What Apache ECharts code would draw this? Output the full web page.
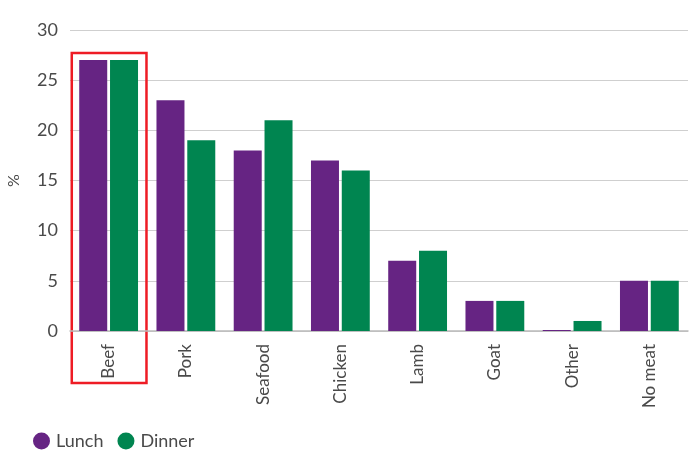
<!DOCTYPE html>
<html><head><meta charset="utf-8">
<script src="https://cdn.jsdelivr.net/npm/echarts@6/dist/echarts.min.js"></script>
<style>html,body{margin:0;padding:0;background:#fff}#c{width:694px;height:455px}</style>
</head><body><div id="c"></div>
<script>
var categories = ["Beef","Pork","Seafood","Chicken","Lamb","Goat","Other","No meat"];
var lunch = [27,23,18,17,7,3,0.1,5];
var dinner = [27,19,21,16,8,3,1,5];
var yTicks = [0,5,10,15,20,25,30];
var highlightCategory = "Beef";

(function () {
  var font = "Lato";
  var chart = echarts.init(document.getElementById('c'));
  chart.setOption({
    animation: false,
    textStyle: {fontFamily: font},
    grid: {left: 70, right: 6, top: 30, bottom: 124, outerBoundsMode: 'none', containLabel: false},
    legend: {
      left: 28, bottom: 0, itemWidth: 17, itemHeight: 17, itemGap: 14,
      icon: 'circle',
      textStyle: {fontFamily: font, fontSize: 18, color: '#4a4a4a', padding: [0,0,0,1]},
      data: ['Lunch','Dinner']
    },
    xAxis: {
      type: 'category', data: categories,
      axisTick: {show: false},
      axisLine: {lineStyle: {color: '#bbb', width: 1.5}},
      axisLabel: {rotate: 90, fontSize: 17, color: '#4a4a4a', margin: 13, fontFamily: font}
    },
    yAxis: {
      type: 'value', min: yTicks[0], max: yTicks[yTicks.length-1], interval: 5,
      name: '%', nameLocation: 'middle', nameGap: 48, nameRotate: 90,
      nameTextStyle: {fontSize: 16, color: '#4a4a4a', fontFamily: font},
      axisLine: {show: false}, axisTick: {show: false},
      axisLabel: {fontSize: 18, color: '#4a4a4a', margin: 12, fontFamily: font},
      splitLine: {lineStyle: {color: '#cfcfcf', width: 1}}
    },
    series: [
      {name: 'Lunch', type: 'bar', data: lunch, barWidth: 28, barGap: '10%', itemStyle: {color: '#662483'}},
      {name: 'Dinner', type: 'bar', data: dinner, barWidth: 28, itemStyle: {color: '#008550'}}
    ]
  });
  var idx = categories.indexOf(highlightCategory);
  var c0 = chart.convertToPixel({xAxisIndex: 0}, idx);
  var c1 = chart.convertToPixel({xAxisIndex: 0}, idx + 1);
  var band = c1 - c0;
  var bx0 = c0 - band * 0.49;
  var bx1 = c0 + band * 0.49;
  var by0 = chart.convertToPixel({yAxisIndex: 0}, Math.max(lunch[idx], dinner[idx])) - 7;
  var by1 = chart.convertToPixel({yAxisIndex: 0}, 0) + 52;
  chart.setOption({
    graphic: [{
      type: 'rect', silent: true,
      shape: {x: bx0 + 1, y: by0, width: bx1 - bx0 - 1, height: by1 - by0},
      style: {fill: 'none', stroke: '#ee1c25', lineWidth: 2.5}
    }]
  });
})();
</script></body></html>
